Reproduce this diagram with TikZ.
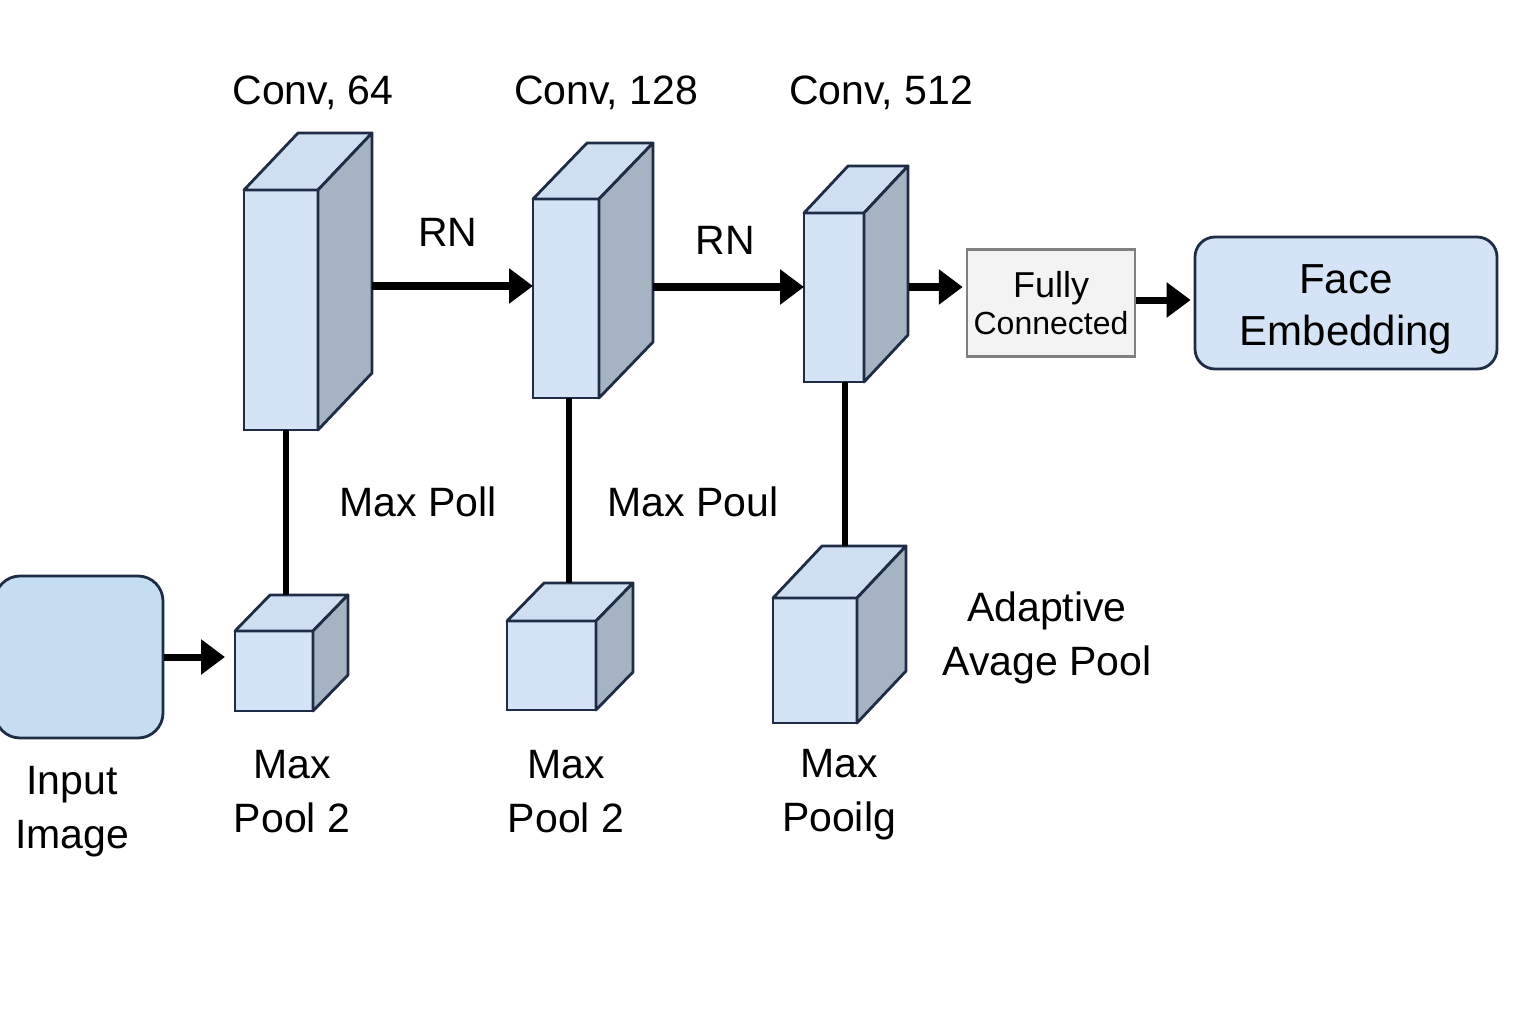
\documentclass[tikz,border=0pt]{standalone}
\usepackage{fontspec}
\setmainfont{Liberation Sans}
\usepackage{xcolor}
\usepackage{tikz}
\usetikzlibrary{arrows.meta}

\definecolor{navy}{HTML}{1E2D45}
\definecolor{boxfront}{HTML}{D4E3F5}
\definecolor{boxtop}{HTML}{D0DEF1}
\definecolor{boxside}{HTML}{A6B3C3}
\definecolor{inputfill}{HTML}{C4DDF1}
\definecolor{fcfill}{HTML}{F3F3F3}
\definecolor{fcdraw}{HTML}{808080}

\tikzset{
  front/.style={draw=navy, fill=boxfront, line width=2.8pt, inner sep=0pt, outer sep=0pt, anchor=north west},
  topface/.style={draw=navy, fill=boxtop, line width=2.8pt, line join=round},
  sideface/.style={draw=navy, fill=boxside, line width=2.8pt, line join=round},
  arr/.style={line width=7pt, -{Triangle[length=24pt,width=34pt]}},
  link/.style={line width=6pt},
  lbl/.style={font=\fontsize{41}{54}\selectfont, align=center},
}

\begin{document}
\begin{tikzpicture}[x=1pt, y=-1pt]
\useasboundingbox (0,0) rectangle (1536,1024);

% boxes: name / left / top / width / height / depth x / depth y
\foreach \n/\bx/\by/\bw/\bh/\ox/\oy in {c1/244/190/74/240/54/57, c2/533/199/66/199/54/56,
  c3/804/213/60/169/44/47, p1/235/631/78/80/35/36, p2/507/621/89/89/37/38, p3/773/598/84/125/49/52}
 {
 \node [front, minimum width=\bw pt, minimum height=\bh pt] (\n) at (\bx, \by) {} ;
 \draw [topface] (\n.north west) -- ++(\ox, -\oy) -- ++(\bw, 0) -- (\n.north east) -- cycle ;
 \draw [sideface] (\n.north east) -- ++(\ox, -\oy) -- ++(0, \bh) -- (\n.south east) -- cycle ;
 }

\node [draw=navy, fill=inputfill, line width=2.8pt, rounded corners=25pt,
  minimum width=168pt, minimum height=162pt] (inp) at (79, 657) {} ;
\node [draw=fcdraw, fill=fcfill, line width=2.5pt, align=center,
  minimum width=168pt, minimum height=107pt, inner sep=0pt] (fc) at (1051, 303)
  {\fontsize{36}{38}\selectfont Fully\\[5pt]\fontsize{32}{38}\selectfont Connected} ;
\node [draw=navy, fill=boxfront, line width=2.8pt, rounded corners=20pt,
  minimum width=302pt, minimum height=132pt,
  label={[lbl, font=\fontsize{42}{52}\selectfont, yshift=-6pt]center:Face\\Embedding}] (face) at (1346, 303) {} ;

% labels
\node [lbl] (conv1) at (313, 93) {Conv, 64} ;
\node [lbl] (conv2) at (606, 93) {Conv, 128} ;
\node [lbl] (conv3) at (881, 93) {Conv, 512} ;
\node [lbl] (rn1) at (448, 232) {RN} ;
\node [lbl] (rn2) at (725, 240) {RN} ;
\node [lbl] (mp1) at (418, 502) {Max Poll} ;
\node [lbl] (mp2) at (693, 502) {Max Poul} ;
\node [lbl] (p1lbl) at (292, 792) {Max\\Pool 2} ;
\node [lbl] (p2lbl) at (566, 792) {Max\\Pool 2} ;
\node [lbl] (p3lbl) at (839, 795) {Max\\Pooilg} ;
\node [lbl] (inlbl) at (72, 812) {Input\\Image} ;
\node [lbl] (aplbl) at (1047, 638) {Adaptive\\Avage Pool} ;

% connectors
\coordinate (c1out) at (372, 286) ;
\coordinate (c2out) at (653, 287) ;
\coordinate (c3out) at (909, 287) ;
\coordinate (p1top) at (286, 595) ;
\coordinate (p2top) at (569, 583) ;
\coordinate (p3top) at (845, 546) ;

\draw [arr] (c1out) -- (c1out -| c2.west) ;
\draw [arr] (c2out) -- (c2out -| c3.west) ;
\draw [arr] (c3out) -- ([xshift=-3pt]c3out -| fc.west) ;
\draw [arr] ([yshift=3pt]fc.east) -- ([xshift=-3pt,yshift=3pt]fc.east -| face.west) ;
\draw [arr, shorten >=10pt] (inp.east) -- (inp.east -| p1.west) ;

\draw [link] (c1.south -| p1top) -- (p1top) ;
\draw [link] (c2.south -| p2top) -- (p2top) ;
\draw [link] (c3.south -| p3top) -- (p3top) ;

\end{tikzpicture}
\end{document}
